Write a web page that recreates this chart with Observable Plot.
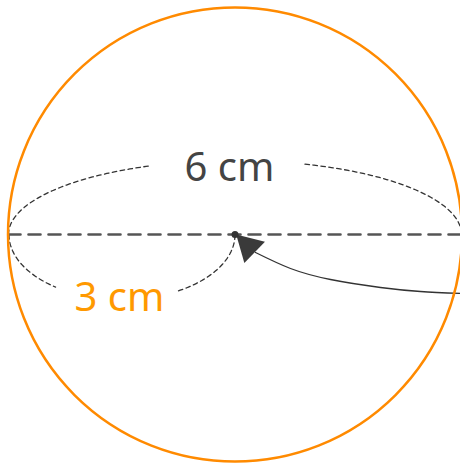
<!DOCTYPE html>
<html>
<head>
<meta charset="utf-8">
<script src="https://cdn.jsdelivr.net/npm/d3@7"></script>
<script src="https://cdn.jsdelivr.net/npm/@observablehq/plot@0.6"></script>
<style>
  html, body { margin: 0; padding: 0; background: #fff; }
</style>
</head>
<body>
<div id="chart"></div>
<script>
// Sphere outline
const sphere = [{ x: 234.5, y: 234, r: 227 }];
// Diameter (dashed)
const diameter = [{ x: 8, y: 234 }, { x: 461, y: 234 }];
// Centre point
const centre = [{ x: 234.5, y: 234 }];
// Ellipse arcs: centre, radii, and angle ranges (degrees) of the drawn parts
const upperEllipse = { cx: 234.5, cy: 234, rx: 226.5, ry: 74, dir: -1, parts: [[180, 112], [72, 0]] };
const lowerEllipse = { cx: 121.5, cy: 234, rx: 113, ry: 65, dir: 1, parts: [[180, 126], [60, 0]] };
// Curved pointer to the centre
const pointer = [
  { x: 461, y: 293 }, { x: 420, y: 291 }, { x: 380, y: 287 },
  { x: 330, y: 279 }, { x: 290, y: 268 }, { x: 255, y: 252 }
];
const pointerHead = [{ x: 248, y: 246, angle: -46 }];
// Labels
const labels = [
  { text: "6 cm", x: 229, y: 168, color: "#444444" },
  { text: "3 cm", x: 119, y: 298, color: "#FF9900" }
];

function arcPoints(e, id) {
  const pts = [];
  e.parts.forEach((p, i) => {
    const [a0, a1] = p;
    const n = 60;
    for (let k = 0; k <= n; k++) {
      const t = (a0 + (a1 - a0) * k / n) * Math.PI / 180;
      pts.push({ x: e.cx + e.rx * Math.cos(t), y: e.cy + e.dir * e.ry * Math.sin(t), z: id + i });
    }
  });
  return pts;
}
const arcs = [...arcPoints(upperEllipse, "u"), ...arcPoints(lowerEllipse, "l")];

const chart = Plot.plot({
  width: 460,
  height: 465,
  margin: 0,
  x: { domain: [0, 460], range: [0, 460], axis: null },
  y: { domain: [0, 465], range: [0, 465], axis: null },
  marks: [
    Plot.line(arcs, { x: "x", y: "y", z: "z", stroke: "#333", strokeWidth: 1.3, strokeDasharray: "4.5,3.5", curve: "linear" }),
    Plot.line(diameter, { x: "x", y: "y", stroke: "#555", strokeWidth: 2.6, strokeDasharray: "12,8" }),
    Plot.line(pointer, { x: "x", y: "y", stroke: "#333", strokeWidth: 1.3, curve: "natural" }),
    Plot.dot(pointerHead, { x: "x", y: "y", symbol: "triangle", r: 11, fill: "#3a3a3a", stroke: "none", rotate: "angle" }),
    Plot.dot(centre, { x: "x", y: "y", r: 3.5, fill: "#333", stroke: "none" }),
    Plot.dot(sphere, { x: "x", y: "y", r: 227, stroke: "#FF8A00", strokeWidth: 2.5, fill: "none" }),
    Plot.text(labels, { x: "x", y: "y", text: "text", fill: "color", fontSize: 40, fontFamily: "Noto Sans", textAnchor: "middle", lineAnchor: "middle" })
  ]
});
document.getElementById("chart").appendChild(chart);
</script>
</body>
</html>
